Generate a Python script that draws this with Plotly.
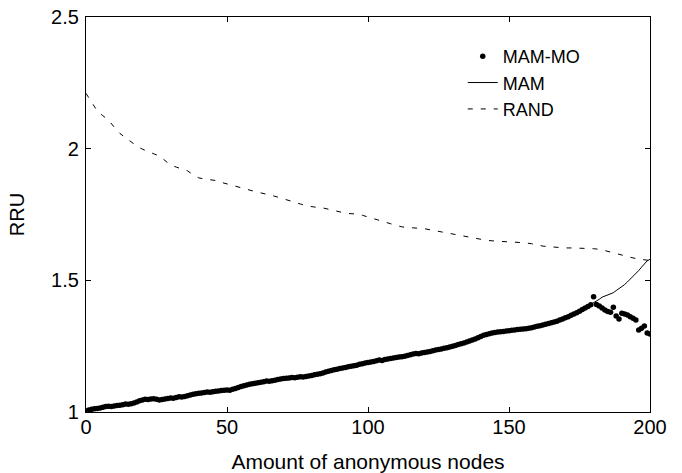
import plotly.graph_objects as go

# ---- data ----
# shared MAM / MAM-MO curve, x = 0..179 (the two series coincide there)
base_x = list(range(0, 180))
base_rru = [
    1.004, 1.008, 1.010, 1.012, 1.013, 1.015, 1.018, 1.021, 1.022, 1.021,
    1.023, 1.025, 1.026, 1.028, 1.030, 1.029, 1.031, 1.034, 1.038, 1.043,
    1.046, 1.048, 1.047, 1.049, 1.050, 1.048, 1.046, 1.047, 1.049, 1.051,
    1.053, 1.052, 1.055, 1.058, 1.057, 1.059, 1.062, 1.065, 1.067, 1.069,
    1.071, 1.072, 1.074, 1.076, 1.075, 1.077, 1.079, 1.080, 1.082, 1.083,
    1.084, 1.083, 1.086, 1.089, 1.093, 1.097, 1.100, 1.103, 1.105, 1.107,
    1.109, 1.111, 1.113, 1.115, 1.118, 1.117, 1.119, 1.121, 1.123, 1.125,
    1.127, 1.128, 1.129, 1.131, 1.130, 1.132, 1.134, 1.133, 1.135, 1.137,
    1.139, 1.141, 1.143, 1.145, 1.148, 1.152, 1.155, 1.158, 1.160, 1.162,
    1.165, 1.167, 1.169, 1.172, 1.174, 1.176, 1.178, 1.181, 1.183, 1.186,
    1.188, 1.190, 1.192, 1.195, 1.197, 1.196, 1.199, 1.201, 1.203, 1.205,
    1.207, 1.209, 1.210, 1.212, 1.215, 1.217, 1.220, 1.222, 1.221, 1.224,
    1.226, 1.228, 1.230, 1.233, 1.235, 1.237, 1.239, 1.242, 1.244, 1.247,
    1.250, 1.253, 1.256, 1.259, 1.262, 1.266, 1.270, 1.273, 1.277, 1.282,
    1.287, 1.291, 1.294, 1.297, 1.300, 1.302, 1.304, 1.305, 1.306, 1.308,
    1.309, 1.310, 1.311, 1.313, 1.314, 1.315, 1.316, 1.318, 1.320, 1.323,
    1.326, 1.328, 1.330, 1.333, 1.336, 1.339, 1.342, 1.345, 1.349, 1.353,
    1.358, 1.362, 1.367, 1.372, 1.377, 1.383, 1.389, 1.395, 1.401, 1.407,
]

tail_x = list(range(180, 201))
mam_tail = [
    1.415, 1.422, 1.428, 1.436, 1.440, 1.444, 1.449, 1.453, 1.461, 1.468,
    1.476, 1.484, 1.494, 1.504, 1.514, 1.526, 1.537, 1.550, 1.563, 1.574,
    1.580,
]
mammo_tail = [
    1.438, 1.408, 1.403, 1.395, 1.387, 1.382, 1.379, 1.398, 1.365, 1.353,
    1.375, 1.372, 1.368, 1.362, 1.356, 1.349, 1.311, 1.318, 1.327, 1.300,
    1.296,
]

rand_x = list(range(0, 201, 2))
rand_rru = [
    2.210, 2.175, 2.143, 2.125, 2.108, 2.082, 2.058, 2.042, 2.026, 2.010,
    1.998, 1.990, 1.981, 1.972, 1.955, 1.938, 1.930, 1.924, 1.916, 1.900,
    1.889, 1.885, 1.882, 1.879, 1.872, 1.866, 1.860, 1.855, 1.847, 1.841,
    1.837, 1.832, 1.828, 1.822, 1.816, 1.810, 1.804, 1.798, 1.790, 1.783,
    1.779, 1.777, 1.775, 1.770, 1.764, 1.758, 1.755, 1.753, 1.752, 1.747,
    1.740, 1.734, 1.728, 1.721, 1.715, 1.709, 1.703, 1.701, 1.700, 1.699,
    1.696, 1.692, 1.688, 1.684, 1.681, 1.677, 1.673, 1.669, 1.664, 1.659,
    1.655, 1.652, 1.650, 1.648, 1.647, 1.646, 1.645, 1.644, 1.642, 1.639,
    1.634, 1.630, 1.628, 1.626, 1.624, 1.623, 1.623, 1.623, 1.622, 1.621,
    1.620, 1.618, 1.613, 1.607, 1.601, 1.595, 1.589, 1.585, 1.581, 1.577,
    1.575,
]

x_ticks = [0, 50, 100, 150, 200]
y_ticks = [1, 1.5, 2, 2.5]
y_tick_labels = ["1", "1.5", "2", "2.5"]

FONT = "Liberation Sans, Arial, Helvetica, sans-serif"

fig = go.Figure()

fig.add_trace(go.Scatter(
    x=base_x + tail_x, y=base_rru + mammo_tail, name="MAM-MO",
    mode="markers", marker=dict(color="black", size=5.5, line=dict(width=0)),
))
fig.add_trace(go.Scatter(
    x=base_x + tail_x, y=base_rru + mam_tail, name="MAM",
    mode="lines", line=dict(color="black", width=1),
))
fig.add_trace(go.Scatter(
    x=rand_x, y=rand_rru, name="RAND",
    mode="lines", line=dict(color="black", width=1, dash="5px,8px"),
))

axis_common = dict(
    showline=True, linecolor="black", linewidth=1.3, mirror="ticks",
    ticks="inside", ticklen=5, tickwidth=1, tickcolor="black",
    showgrid=False, zeroline=False, automargin=False,
    tickfont=dict(family=FONT, size=20, color="black"),
)

fig.update_xaxes(
    range=[0, 200], tickvals=x_ticks, ticktext=[str(v) for v in x_ticks],
    ticklabelstandoff=-3,
    title=dict(text="Amount of anonymous nodes",
               font=dict(family=FONT, size=21, color="black"), standoff=17),
    **axis_common,
)
fig.update_yaxes(
    range=[1, 2.5], tickvals=y_ticks, ticktext=y_tick_labels,
    ticklabelstandoff=2,
    title=dict(text="RRU", font=dict(family=FONT, size=20, color="black"),
               standoff=21),
    **axis_common,
)

fig.update_layout(
    width=682, height=473,
    margin=dict(l=86, r=32, t=17, b=61),
    paper_bgcolor="white", plot_bgcolor="white",
    font=dict(family=FONT, size=20, color="black"),
    showlegend=True,
    legend=dict(
        x=0.668, y=0.947, xanchor="left", yanchor="top",
        bgcolor="rgba(0,0,0,0)", borderwidth=0,
        font=dict(family=FONT, size=18, color="black"),
        itemwidth=30,
    ),
)

fig.write_html("out.html")
